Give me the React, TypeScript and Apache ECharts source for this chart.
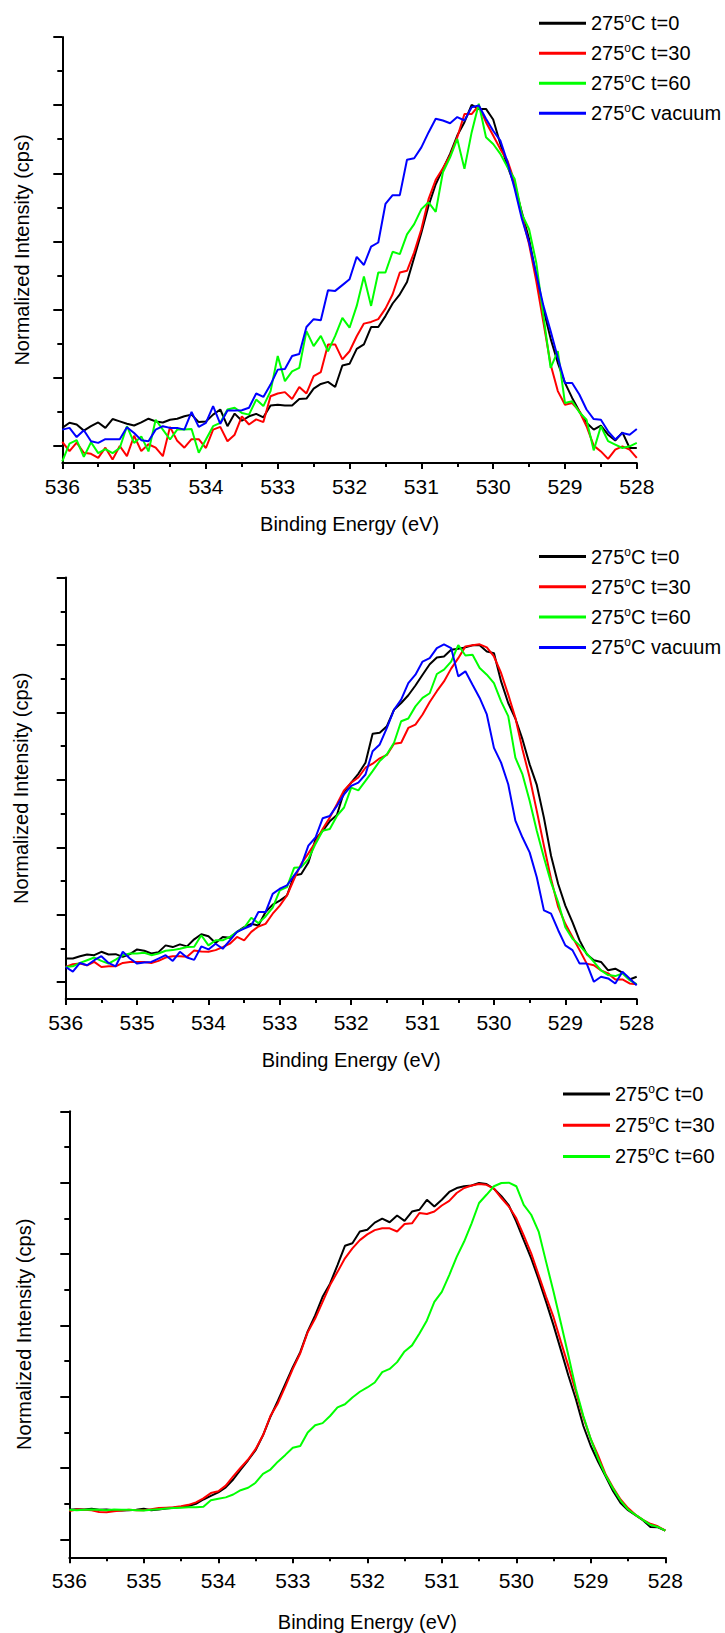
import React, { useEffect, useRef } from "react";
import * as echarts from "echarts";

const FONT = "'Liberation Sans', Arial, Helvetica, sans-serif";

// Binding energy grid (eV), 536 -> 528 in 0.1 eV steps
const ENERGY = [
  536.0, 535.9, 535.8, 535.7, 535.6, 535.5, 535.4, 535.3, 535.2, 535.1,
  535.0, 534.9, 534.8, 534.7, 534.6, 534.5, 534.4, 534.3, 534.2, 534.1,
  534.0, 533.9, 533.8, 533.7, 533.6, 533.5, 533.4, 533.3, 533.2, 533.1,
  533.0, 532.9, 532.8, 532.7, 532.6, 532.5, 532.4, 532.3, 532.2, 532.1,
  532.0, 531.9, 531.8, 531.7, 531.6, 531.5, 531.4, 531.3, 531.2, 531.1,
  531.0, 530.9, 530.8, 530.7, 530.6, 530.5, 530.4, 530.3, 530.2, 530.1,
  530.0, 529.9, 529.8, 529.7, 529.6, 529.5, 529.4, 529.3, 529.2, 529.1,
  529.0, 528.9, 528.8, 528.7, 528.6, 528.5, 528.4, 528.3, 528.2, 528.1,
  528.0,
];

const NAMES = ["275°C t=0", "275°C t=30", "275°C t=60", "275°C vacuum"];
const COLORS = ["#000000", "#ff0000", "#00ff00", "#0000ff"];
const X_TITLE = "Binding Energy (eV)";
const Y_TITLE = "Normalized Intensity (cps)";
const MAJOR_TICKS = [0, 0.2, 0.4, 0.6, 0.8, 1.0, 1.2];
const MINOR_TICKS = [0.1, 0.3, 0.5, 0.7, 0.9, 1.1];

// ---------- Panel 1 ----------
const P1_T0 = [
  0.053, 0.068, 0.063, 0.045, 0.058, 0.069, 0.053, 0.079, 0.072, 0.065,
  0.060, 0.069, 0.080, 0.072, 0.069, 0.077, 0.080, 0.087, 0.092, 0.070,
  0.072, 0.092, 0.107, 0.058, 0.095, 0.074, 0.087, 0.094, 0.084, 0.119,
  0.121, 0.119, 0.119, 0.138, 0.139, 0.168, 0.182, 0.188, 0.173, 0.236,
  0.241, 0.285, 0.298, 0.349, 0.349, 0.381, 0.418, 0.445, 0.481, 0.553,
  0.626, 0.705, 0.768, 0.813, 0.857, 0.911, 0.950, 1.001, 0.989, 0.989,
  0.958, 0.886, 0.821, 0.764, 0.685, 0.607, 0.499, 0.401, 0.315, 0.244,
  0.185, 0.141, 0.102, 0.068, 0.048, 0.060, 0.033, 0.016, 0.040, -0.006,
  -0.006,
];
const P1_T30 = [
  0.012, -0.015, 0.010, -0.020, -0.023, -0.035, -0.005, -0.040, 0.000, -0.030,
  0.030, -0.015, 0.005, -0.005, -0.030, 0.056, 0.015, -0.005, 0.020, 0.020,
  -0.006, 0.048, 0.056, 0.014, 0.033, 0.087, 0.063, 0.078, 0.070, 0.146,
  0.154, 0.158, 0.138, 0.173, 0.154, 0.205, 0.217, 0.298, 0.298, 0.254,
  0.278, 0.322, 0.359, 0.364, 0.372, 0.403, 0.445, 0.509, 0.514, 0.568,
  0.636, 0.724, 0.781, 0.815, 0.852, 0.906, 0.974, 0.974, 0.999, 0.950,
  0.911, 0.871, 0.837, 0.774, 0.676, 0.592, 0.484, 0.362, 0.239, 0.161,
  0.121, 0.126, 0.102, 0.058, 0.001, -0.016, -0.038, -0.011, -0.001, -0.011,
  -0.035,
];
const P1_T60 = [
  -0.045, 0.007, 0.017, -0.032, 0.011, -0.021, -0.009, -0.021, -0.006, 0.058,
  0.009, 0.028, -0.016, 0.077, 0.048, 0.019, 0.048, 0.048, 0.050, -0.020,
  0.019, 0.058, 0.068, 0.107, 0.112, 0.097, 0.092, 0.136, 0.117, 0.161,
  0.264, 0.190, 0.219, 0.229, 0.337, 0.293, 0.323, 0.278, 0.323, 0.376,
  0.347, 0.411, 0.497, 0.411, 0.509, 0.509, 0.570, 0.563, 0.621, 0.651,
  0.695, 0.715, 0.687, 0.803, 0.847, 0.901, 0.813, 0.920, 1.004, 0.906,
  0.886, 0.857, 0.818, 0.783, 0.680, 0.636, 0.538, 0.381, 0.229, 0.278,
  0.126, 0.131, 0.099, 0.077, -0.013, 0.058, 0.014, 0.004, -0.006, -0.001,
  0.009,
];
const P1_VAC = [
  0.048, 0.053, 0.026, 0.046, 0.014, 0.009, 0.020, 0.020, 0.020, 0.055,
  0.038, 0.017, 0.014, 0.048, 0.058, 0.053, 0.053, 0.048, 0.100, 0.056,
  0.068, 0.117, 0.065, 0.104, 0.104, 0.105, 0.112, 0.154, 0.144, 0.180,
  0.224, 0.226, 0.264, 0.270, 0.349, 0.372, 0.369, 0.457, 0.455, 0.472,
  0.489, 0.555, 0.531, 0.585, 0.597, 0.710, 0.736, 0.736, 0.840, 0.844,
  0.876, 0.920, 0.960, 0.955, 0.947, 0.965, 0.955, 0.994, 0.999, 0.960,
  0.925, 0.896, 0.832, 0.754, 0.666, 0.597, 0.504, 0.411, 0.337, 0.259,
  0.185, 0.185, 0.151, 0.107, 0.079, 0.077, 0.043, 0.019, 0.038, 0.033,
  0.050,
];

// ---------- Panel 2 ----------
const P2_T0 = [
  0.070, 0.070, 0.077, 0.082, 0.080, 0.090, 0.082, 0.083, 0.075, 0.083,
  0.097, 0.093, 0.085, 0.089, 0.109, 0.104, 0.112, 0.106, 0.127, 0.142,
  0.136, 0.116, 0.134, 0.132, 0.149, 0.163, 0.173, 0.168, 0.208, 0.230,
  0.242, 0.257, 0.316, 0.321, 0.355, 0.424, 0.449, 0.477, 0.496, 0.565,
  0.592, 0.618, 0.651, 0.737, 0.740, 0.759, 0.808, 0.828, 0.851, 0.880,
  0.912, 0.943, 0.963, 0.966, 0.986, 0.989, 0.993, 0.999, 0.999, 0.981,
  0.976, 0.892, 0.828, 0.782, 0.720, 0.646, 0.585, 0.488, 0.375, 0.291,
  0.227, 0.178, 0.124, 0.083, 0.065, 0.060, 0.035, 0.040, 0.028, 0.008,
  0.016,
];
const P2_T30 = [
  0.045, 0.053, 0.055, 0.050, 0.060, 0.045, 0.047, 0.047, 0.057, 0.060,
  0.060, 0.060, 0.057, 0.063, 0.073, 0.077, 0.077, 0.075, 0.094, 0.091,
  0.090, 0.095, 0.104, 0.114, 0.134, 0.124, 0.149, 0.165, 0.173, 0.203,
  0.227, 0.257, 0.306, 0.351, 0.382, 0.415, 0.454, 0.488, 0.528, 0.569,
  0.592, 0.607, 0.636, 0.648, 0.664, 0.674, 0.707, 0.710, 0.754, 0.764,
  0.794, 0.831, 0.863, 0.892, 0.930, 0.961, 0.996, 0.999, 1.002, 0.993,
  0.966, 0.917, 0.853, 0.784, 0.690, 0.607, 0.508, 0.405, 0.306, 0.223,
  0.173, 0.134, 0.095, 0.055, 0.050, 0.035, 0.026, 0.008, 0.008, -0.004,
  -0.006,
];
const P2_T60 = [
  0.045, 0.047, 0.057, 0.065, 0.073, 0.063, 0.055, 0.067, 0.080, 0.085,
  0.085, 0.087, 0.080, 0.085, 0.093, 0.095, 0.099, 0.104, 0.105, 0.139,
  0.109, 0.124, 0.124, 0.134, 0.149, 0.161, 0.191, 0.175, 0.195, 0.221,
  0.272, 0.282, 0.339, 0.341, 0.365, 0.410, 0.449, 0.454, 0.493, 0.518,
  0.577, 0.569, 0.597, 0.626, 0.656, 0.676, 0.710, 0.774, 0.782, 0.818,
  0.843, 0.857, 0.914, 0.927, 0.951, 1.000, 0.969, 0.971, 0.932, 0.912,
  0.887, 0.833, 0.789, 0.666, 0.616, 0.538, 0.449, 0.370, 0.296, 0.237,
  0.163, 0.129, 0.109, 0.085, 0.060, 0.035, 0.021, 0.018, 0.026, 0.006,
  -0.006,
];
const P2_VAC = [
  0.045, 0.031, 0.057, 0.050, 0.065, 0.077, 0.057, 0.047, 0.090, 0.070,
  0.055, 0.058, 0.060, 0.070, 0.080, 0.063, 0.090, 0.073, 0.066, 0.106,
  0.097, 0.114, 0.099, 0.124, 0.149, 0.159, 0.168, 0.208, 0.208, 0.262,
  0.277, 0.287, 0.316, 0.346, 0.405, 0.429, 0.486, 0.493, 0.523, 0.557,
  0.582, 0.592, 0.616, 0.685, 0.705, 0.754, 0.808, 0.838, 0.887, 0.912,
  0.951, 0.961, 0.991, 1.002, 0.991, 0.907, 0.922, 0.882, 0.843, 0.794,
  0.695, 0.651, 0.587, 0.479, 0.429, 0.385, 0.311, 0.213, 0.203, 0.154,
  0.109, 0.095, 0.055, 0.055, 0.001, 0.016, 0.011, -0.004, 0.031, 0.011,
  -0.009,
];

// ---------- Panel 3 ----------
const P3_T0 = [
  0.083, 0.085, 0.084, 0.086, 0.083, 0.084, 0.082, 0.081, 0.082, 0.083,
  0.086, 0.082, 0.084, 0.087, 0.089, 0.091, 0.094, 0.100, 0.112, 0.122,
  0.132, 0.146, 0.168, 0.196, 0.222, 0.250, 0.292, 0.344, 0.389, 0.436,
  0.483, 0.525, 0.583, 0.628, 0.680, 0.717, 0.769, 0.823, 0.830, 0.863,
  0.868, 0.888, 0.899, 0.889, 0.908, 0.893, 0.919, 0.924, 0.952, 0.933,
  0.952, 0.974, 0.985, 0.990, 0.992, 0.999, 0.996, 0.983, 0.962, 0.936,
  0.891, 0.839, 0.788, 0.729, 0.666, 0.600, 0.530, 0.459, 0.393, 0.318,
  0.262, 0.217, 0.176, 0.135, 0.102, 0.082, 0.068, 0.054, 0.035, 0.034,
  0.025,
];
const P3_T30 = [
  0.080, 0.084, 0.083, 0.082, 0.077, 0.076, 0.079, 0.081, 0.083, 0.082,
  0.082, 0.085, 0.088, 0.089, 0.090, 0.093, 0.097, 0.104, 0.115, 0.130,
  0.135, 0.151, 0.177, 0.201, 0.224, 0.253, 0.292, 0.346, 0.382, 0.429,
  0.478, 0.522, 0.581, 0.619, 0.666, 0.713, 0.750, 0.788, 0.816, 0.839,
  0.855, 0.867, 0.872, 0.872, 0.863, 0.884, 0.886, 0.915, 0.912, 0.919,
  0.936, 0.949, 0.971, 0.985, 0.992, 0.996, 0.994, 0.983, 0.957, 0.933,
  0.900, 0.852, 0.802, 0.741, 0.680, 0.623, 0.553, 0.485, 0.414, 0.342,
  0.281, 0.234, 0.182, 0.145, 0.112, 0.088, 0.069, 0.055, 0.044, 0.037,
  0.025,
];
const P3_T60 = [
  0.083, 0.082, 0.083, 0.084, 0.083, 0.082, 0.084, 0.083, 0.083, 0.082,
  0.081, 0.083, 0.085, 0.087, 0.088, 0.089, 0.090, 0.090, 0.092, 0.110,
  0.114, 0.118, 0.126, 0.138, 0.145, 0.159, 0.184, 0.196, 0.218, 0.237,
  0.257, 0.262, 0.300, 0.320, 0.326, 0.346, 0.370, 0.379, 0.398, 0.414,
  0.426, 0.440, 0.469, 0.478, 0.497, 0.527, 0.544, 0.577, 0.614, 0.666,
  0.694, 0.741, 0.792, 0.835, 0.886, 0.943, 0.966, 0.990, 0.999, 1.000,
  0.990, 0.938, 0.910, 0.863, 0.778, 0.694, 0.605, 0.515, 0.422, 0.346,
  0.281, 0.226, 0.179, 0.142, 0.109, 0.084, 0.069, 0.055, 0.041, 0.035,
  0.025,
];

const PANEL1 = [P1_T0, P1_T30, P1_T60, P1_VAC];
const PANEL2 = [P2_T0, P2_T30, P2_T60, P2_VAC];
const PANEL3 = [P3_T0, P3_T30, P3_T60];

type PanelLayout = {
  left: number; top: number; width: number; height: number;
  xNameGap: number; yNameGap: number;
  legendLeft: number; legendTop: number; legendGap: number;
};

const LAYOUTS: PanelLayout[] = [
  { left: 62.3, top: 37, width: 574.5, height: 426, xNameGap: 51, yNameGap: 30, legendLeft: 539, legendTop: 12.3, legendGap: 9 },
  { left: 65.7, top: 577.6, width: 571, height: 421.4, xNameGap: 51, yNameGap: 35, legendLeft: 539, legendTop: 545.5, legendGap: 9.3 },
  { left: 69.3, top: 1111.3, width: 596, height: 446, xNameGap: 55, yNameGap: 35.5, legendLeft: 563, legendTop: 1083, legendGap: 10.2 },
];

const PANELS = [PANEL1, PANEL2, PANEL3];

function legendFormatter(name: string) {
  const parts = name.split("°");
  return `{n|${parts[0]}}{s|o}{n|${parts[1]}}`;
}

function buildOption() {
  const grid: any[] = [];
  const xAxis: any[] = [];
  const yAxis: any[] = [];
  const series: any[] = [];
  const legend: any[] = [];
  const black = "#000000";

  LAYOUTS.forEach((L, i) => {
    grid.push({ left: L.left, top: L.top, width: L.width, height: L.height, containLabel: false, outerBoundsMode: "none" });
    xAxis.push({
      type: "value", gridIndex: i, min: 528, max: 536, interval: 1, inverse: true,
      axisLine: { show: true, onZero: false, lineStyle: { color: black, width: 2 } },
      axisTick: { show: true, inside: false, length: 6, lineStyle: { color: black, width: 2 } },
      minorTick: { show: true, splitNumber: 2, length: 4, lineStyle: { color: black, width: 2 } },
      splitLine: { show: false }, minorSplitLine: { show: false },
      axisLabel: { show: true, fontSize: 21, color: black, margin: 13, fontFamily: FONT },
      name: X_TITLE, nameLocation: "middle", nameGap: L.xNameGap,
      nameTextStyle: { fontSize: 20, color: black, fontFamily: FONT },
    });
    yAxis.push({
      type: "value", gridIndex: i, min: -0.05, max: 1.2, position: "left",
      axisLine: { show: true, onZero: false, lineStyle: { color: black, width: 2 } },
      axisTick: { show: true, inside: false, length: 9, customValues: MAJOR_TICKS, lineStyle: { color: black, width: 2 } },
      axisLabel: { show: false }, splitLine: { show: false },
      name: Y_TITLE, nameLocation: "middle", nameRotate: 90, nameGap: L.yNameGap,
      nameTextStyle: { fontSize: 20, color: black, fontFamily: FONT },
    });
    yAxis.push({
      type: "value", gridIndex: i, min: -0.05, max: 1.2, position: "left", offset: 0,
      axisLine: { show: false },
      axisTick: { show: true, inside: false, length: 5, customValues: MINOR_TICKS, lineStyle: { color: black, width: 2 } },
      axisLabel: { show: false }, splitLine: { show: false },
    });
    const panel = PANELS[i];
    panel.forEach((vals, j) => {
      series.push({
        type: "line", name: NAMES[j], xAxisIndex: i, yAxisIndex: 2 * i,
        data: ENERGY.map((e, k) => [e, vals[k]]),
        showSymbol: false, symbol: "none", smooth: false,
        lineStyle: { color: COLORS[j], width: 2 },
        itemStyle: { color: COLORS[j] },
        emphasis: { disabled: true },
      });
    });
    legend.push({
      orient: "vertical", left: L.legendLeft, top: L.legendTop, padding: 0,
      itemWidth: 47, itemHeight: 3, itemGap: L.legendGap, icon: "rect",
      data: NAMES.slice(0, panel.length),
      selectedMode: false,
      formatter: legendFormatter,
      textStyle: {
        color: black, fontSize: 20, fontFamily: FONT,
        rich: {
          n: { fontSize: 20, color: black, fontFamily: FONT, lineHeight: 22 },
          s: { fontSize: 12, color: black, fontFamily: FONT, lineHeight: 12, verticalAlign: "top" },
        },
      },
    });
  });

  return {
    animation: false,
    backgroundColor: "#ffffff",
    textStyle: { fontFamily: FONT },
    grid, xAxis, yAxis, series, legend,
  };
}

export default function App() {
  const ref = useRef<HTMLDivElement>(null);
  useEffect(() => {
    document.body.style.margin = "0";
    if (!ref.current) return;
    const chart = echarts.init(ref.current, undefined, { renderer: "svg" });
    chart.setOption(buildOption() as any);
    return () => chart.dispose();
  }, []);
  return <div ref={ref} style={{ width: 725, height: 1633 }} />;
}
